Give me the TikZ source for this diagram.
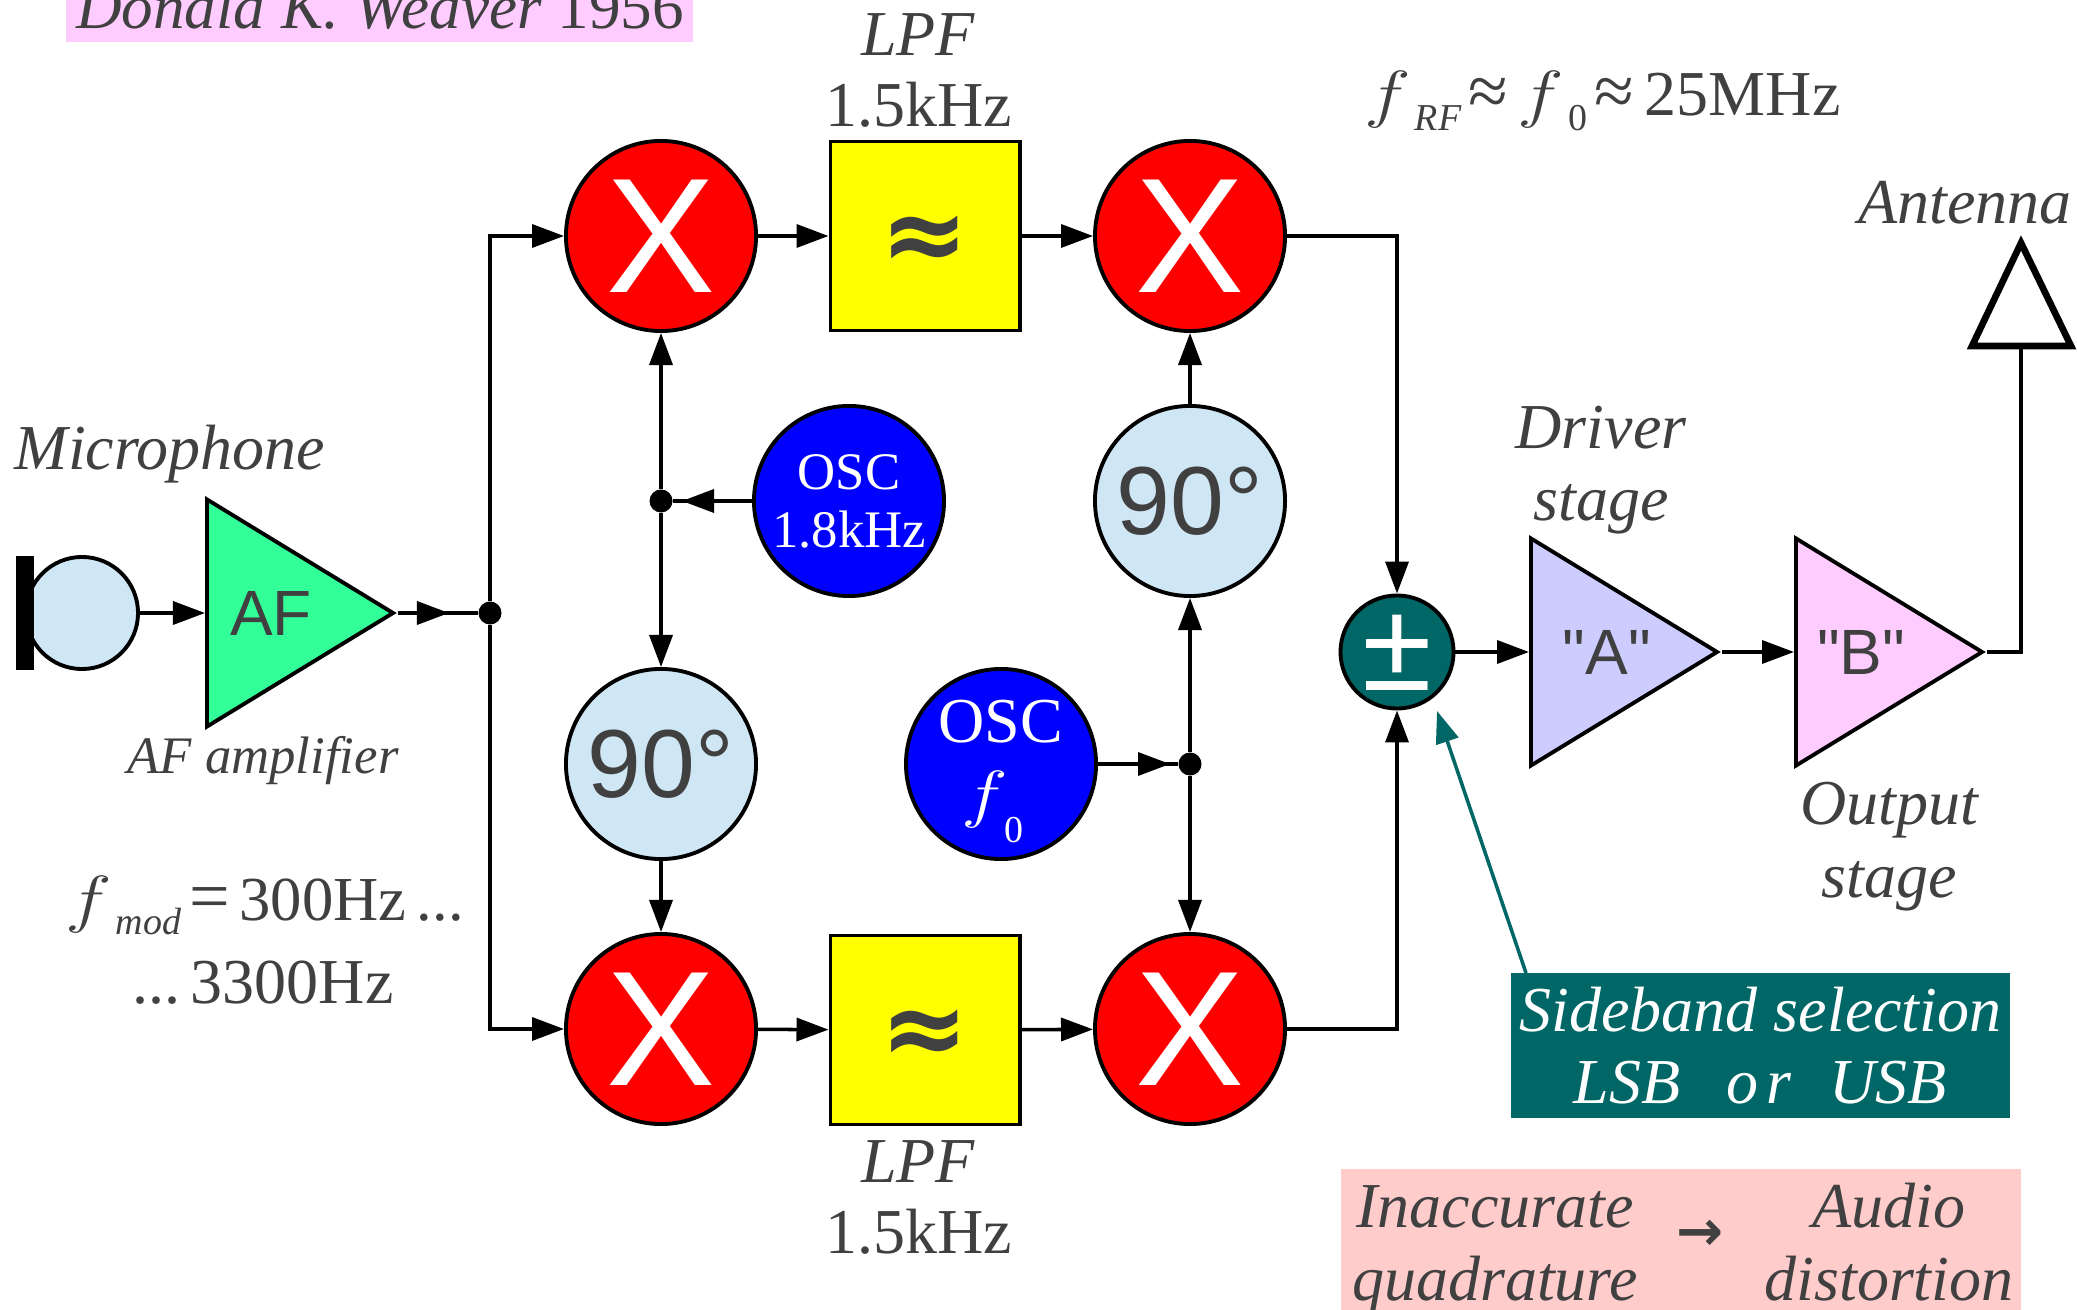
\documentclass[tikz,border=0pt]{standalone}
\usepackage{fontspec}
\setmainfont{Liberation Serif}
\setsansfont{Liberation Sans}
\newfontfamily\symfont{DejaVu Sans}
\newfontfamily\ampfont{Liberation Sans}
\usepackage{tikz}
\usetikzlibrary{arrows.meta,shapes.geometric}
\definecolor{txtgray}{HTML}{404040}
\definecolor{paleblue}{HTML}{CFE6F5}
\definecolor{ampgreen}{HTML}{33FF99}
\definecolor{ampblue}{HTML}{CCCCFF}
\definecolor{amppink}{HTML}{FFCCFF}
\definecolor{darkteal}{HTML}{006666}
\definecolor{warnpink}{HTML}{FFCCCC}
\definecolor{lpfyellow}{HTML}{FFFF00}
\newcommand{\lblfont}{\fontsize{18.2}{20.5}\selectfont}
\newcommand{\subtxt}[1]{\raisebox{-4pt}[0pt][0pt]{\fontsize{10.8}{11}\selectfont #1}}
\newcommand{\fvar}{\scalebox{1.3}[1.05]{\fontsize{17.28}{20}\selectfont$f$}}
\newcommand{\bigsym}[1]{{\fontsize{20.5}{20}\selectfont #1}}

\begin{document}
\begin{tikzpicture}[x=0.01cm,y=-0.01cm,>={Triangle[length=3.2mm,width=2.3mm]},
  every node/.style={text=txtgray,font=\lblfont},
  wire/.style={line width=1pt},
  lbl/.style={anchor=base,align=center,inner sep=0pt,font=\lblfont\itshape},
  numlbl/.style={anchor=base,align=center,inner sep=0pt,font=\lblfont},
  mixer/.style={circle,draw,line width=1.1pt,fill=red,minimum size=1.9cm,inner sep=0pt,text=white,font=\fontsize{46.5}{46.5}\selectfont\sffamily},
  phase/.style={circle,draw,line width=1.1pt,fill=paleblue,minimum size=1.9cm,inner sep=0pt,font=\fontsize{27.5}{27.5}\selectfont\sffamily},
  osc/.style={circle,draw,line width=1.1pt,fill=blue,minimum size=1.9cm,inner sep=0pt,text=white,align=center},
  lpf/.style={rectangle,draw,line width=1.1pt,fill=lpfyellow,minimum size=1.89cm,inner sep=0pt,font=\fontsize{30}{30}\selectfont\symfont\bfseries},
  amp/.style={isosceles triangle,isosceles triangle stretches,draw,line width=1.1pt,minimum width=2.27cm,minimum height=1.86cm,inner sep=0pt,anchor=lower side,font=\lblfont\ampfont},
  junction/.style={circle,fill=black,minimum size=0.23cm,inner sep=0pt}]
  \useasboundingbox (0,0) rectangle (2077,1310);
  % label backgrounds
  \fill[amppink] (66,0) rectangle (693,42);
  \fill[warnpink] (1341,1169) rectangle (2021,1310);
  % blocks
  \node[mixer] (mixa) at (661,236) {X};
  \node[mixer] (mixb) at (1190,236) {X};
  \node[mixer] (mixc) at (661,1029) {X};
  \node[mixer] (mixd) at (1190,1029) {X};
  \node[lpf] (lpfa) at (925,236) {\raisebox{-9.8pt}[0pt][0pt]{≈}};
  \node[lpf] (lpfb) at (925,1030) {\raisebox{-9.8pt}[0pt][0pt]{≈}};
  \node[osc,font=\fontsize{15}{16.5}\selectfont] (oscm) at (849,501) {OSC\\1.8kHz};
  \node[osc] (oscr) at (1001,764) {OSC\\\hspace{-5pt}\fvar\hspace{-1pt}\raisebox{-7.7pt}[0pt][0pt]{\fontsize{10.8}{11}\selectfont 0}};
  \node[phase] (pha) at (661,764) {90°};
  \node[phase] (phb) at (1190,501) {90°};
  \node[circle,draw,line width=1.1pt,fill=paleblue,minimum size=1.12cm] (mic) at (82,613) {};
  \node[rectangle,fill=black,minimum width=0.18cm,minimum height=1.13cm,inner sep=0pt] (micbar) at (25,613) {};
  \node[amp,fill=ampgreen] (af) at (205,613) {AF};
  \node[amp,fill=ampblue] (drv) at (1529,652) {\hspace{0.16cm}"A"};
  \node[amp,fill=amppink] (out) at (1794,652) {"B"};
  \node[circle,draw,line width=1.1pt,fill=darkteal,minimum size=1.13cm,inner sep=0pt,text=white,font=\fontsize{36}{36}\selectfont\sffamily] (sum) at (1397,652) {\makebox[0pt]{\raisebox{-11pt}[0pt][0pt]{±}}};
  \node[junction] (dotin) at (490,613) {};
  \node[junction] (dotm) at (661,501) {};
  \node[junction] (dotr) at (1190,764) {};
  \coordinate (afout) at (449,613);
  \coordinate (oscmin) at (682,501);
  \coordinate (oscrin) at (1170,764);
  \coordinate (antin) at (2021,652);
  \coordinate (anttop) at (2021,243);
  \coordinate (antl) at (1972,346);
  \coordinate (antr) at (2071,346);
  % antenna
  \draw[line width=1.9pt,miter limit=10] (anttop) -- (antr) -- (antl) -- cycle;
  % wires
  \draw[wire,->] (mic) -- (af.lower side);
  \draw[wire] (af.apex) -- (dotin);
  \draw[wire,->] (af.apex) -- (afout);
  \draw[wire,->] (dotin) |- (mixa);
  \draw[wire,->] (dotin) |- (mixc);
  \draw[wire,->] (mixa) -- (lpfa);
  \draw[wire,->] (lpfa) -- (mixb);
  \draw[wire,->] (mixc) -- (lpfb);
  \draw[wire,->] (lpfb) -- (mixd);
  \draw[wire] (oscm) -- (dotm);
  \draw[wire,->] (oscm) -- (oscmin);
  \draw[wire,->] (dotm) -- (mixa);
  \draw[wire,->] (dotm) -- (pha);
  \draw[wire,->] (pha) -- (mixc);
  \draw[wire] (oscr) -- (dotr);
  \draw[wire,->] (oscr) -- (oscrin);
  \draw[wire,->] (dotr) -- (phb);
  \draw[wire,->] (dotr) -- (mixd);
  \draw[wire,->] (phb) -- (mixb);
  \draw[wire,->] (mixb) -| (sum);
  \draw[wire,->] (mixd) -| (sum);
  \draw[wire,->] (sum) -- (drv.lower side);
  \draw[wire,->] (drv.apex) -- (out.lower side);
  \draw[wire] (out.apex) -- (antin) -- (2021,346);
  % labels
  \node[lbl,font=\fontsize{17.95}{20}\selectfont\itshape] (title) at (380,29) {Donald K. Weaver {\upshape 1956}};
  \node[lbl] (lpfalbl) at (918,56) {LPF};
  \node[numlbl] (lpfaval) at (919,127) {1.5kHz};
  \node[lbl] (lpfblbl) at (918,1182) {LPF};
  \node[numlbl] (lpfbval) at (919,1253) {1.5kHz};
  \node[numlbl,anchor=base west] (frf) at (1364,116) {\fvar\hspace{1pt}\subtxt{\itshape RF}\hspace{2.2pt}\bigsym{≈}\hspace{2.5pt}\fvar\hspace{1.2pt}\subtxt{0}\hspace{2.2pt}\bigsym{≈}\hspace{3pt}25MHz};
  \node[lbl] (antlbl) at (1965,224) {Antenna};
  \node[lbl] (drvlbl) at (1601,521) {Driver\\stage};
  \node[lbl] (outlbl) at (1889,897) {Output\\stage};
  \node[lbl] (miclbl) at (170,470) {Microphone};
  \node[lbl,font=\fontsize{15}{17}\selectfont\itshape] (aflbl) at (263,773) {AF amplifier};
  \node[numlbl,anchor=base west,font=\fontsize{17.8}{20}\selectfont] (fmod) at (65,920) {\fvar\hspace{1pt}\subtxt{\itshape mod}\hspace{2.5pt}\bigsym{=}\hspace{2.5pt}300Hz\hspace{3pt}...};
  \node[numlbl] (fmodb) at (263,1003) {...\,3300Hz};
  \node[rectangle,fill=darkteal,minimum width=4.99cm,minimum height=1.45cm,inner sep=0pt,text=white,font=\lblfont\itshape,align=center] (sel) at (1760.5,1045.5) {Sideband selection\\LSB\hspace{0.72em}o\hspace{0.12em}r\hspace{0.6em}USB};
  \coordinate (selout) at (1526,973);
  \coordinate (selin) at (1437,711);
  \draw[wire,darkteal,->] (selout) -- (selin);
  \node[lbl] (inaccl) at (1495,1300) {Inaccurate\\quadrature};
  \node[lbl] (audio) at (1889,1300) {Audio\\distortion};
  \node[inner sep=0pt,font=\fontsize{16}{16}\selectfont\symfont\bfseries] (resarrow) at (1700,1235) {→};
\end{tikzpicture}
\end{document}
